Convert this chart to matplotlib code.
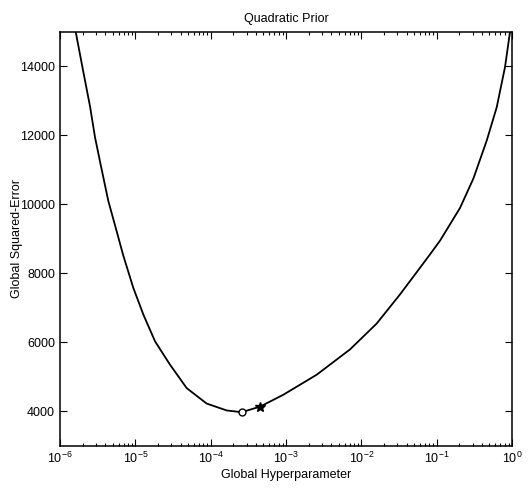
import matplotlib
matplotlib.use("Agg")
import matplotlib.pyplot as plt
from matplotlib.ticker import LogLocator, NullFormatter
import numpy as np

plt.rcParams['font.family'] = ['Liberation Sans', 'DejaVu Sans']
plt.rcParams['mathtext.fontset'] = 'custom'
plt.rcParams['mathtext.rm'] = 'Liberation Sans'
plt.rcParams['mathtext.it'] = 'Liberation Sans'

# Squared error curve vs. the global hyperparameter (log10 of x)
log_hyper = [-5.80, -5.691, -5.602, -5.535, -5.460, -5.359, -5.270, -5.160,
             -5.027, -4.894, -4.739, -4.540, -4.318, -4.053, -3.787, -3.588,
             -3.345, -3.036, -2.592, -2.150, -1.796, -1.487, -1.221, -1.088,
             -0.956, -0.690, -0.513, -0.336, -0.203, -0.093, -0.02]
sq_error = [15100, 13850, 12850, 11945, 11150, 10104, 9400, 8520,
            7584, 6811, 6035, 5358, 4677, 4230, 4030, 3980,
            4140, 4485, 5067, 5800, 6550, 7392, 8166, 8555,
            8950, 9900, 10750, 11849, 12817, 13980, 15100]

# Optimum found (circle) and the estimate (star)
opt_hyper, opt_err = 10 ** -3.588, 3980
est_hyper, est_err = 10 ** -3.345, 4140

y_ticks = [4000, 6000, 8000, 10000, 12000, 14000]

fig = plt.figure(figsize=(5.32, 4.9), dpi=100)
ax = fig.add_axes([0.1128, 0.0898, 0.8496, 0.8449])

hyper = 10 ** np.array(log_hyper)
ax.plot(hyper, sq_error, color='black', lw=1.3, solid_joinstyle='round')
ax.plot([opt_hyper], [opt_err], marker='o', mfc='white', mec='black',
        ms=5, mew=1.0, ls='none')
ax.plot([est_hyper], [est_err], marker='*', color='black', ms=7, ls='none')

ax.set_xscale('log')
ax.set_xlim(1e-6, 1)
ax.set_ylim(3000, 15000)
ax.set_yticks(y_ticks)
ax.set_yticklabels([str(v) for v in y_ticks])
ax.xaxis.set_major_locator(LogLocator(base=10, numticks=10))
ax.xaxis.set_minor_locator(LogLocator(base=10, subs=np.arange(2, 10), numticks=100))
ax.xaxis.set_minor_formatter(NullFormatter())

ax.tick_params(which='both', direction='in', top=True, right=True,
               labelsize=9, width=0.8)
ax.tick_params(which='major', length=5)
ax.tick_params(which='minor', length=2.5)
for s in ax.spines.values():
    s.set_linewidth(1.1)

ax.set_title('Quadratic Prior', fontsize=9, pad=7)
ax.set_xlabel('Global Hyperparameter', fontsize=9, labelpad=2)
ax.set_ylabel('Global Squared-Error', fontsize=9, labelpad=-2)

fig.savefig('out.png', dpi=100)
